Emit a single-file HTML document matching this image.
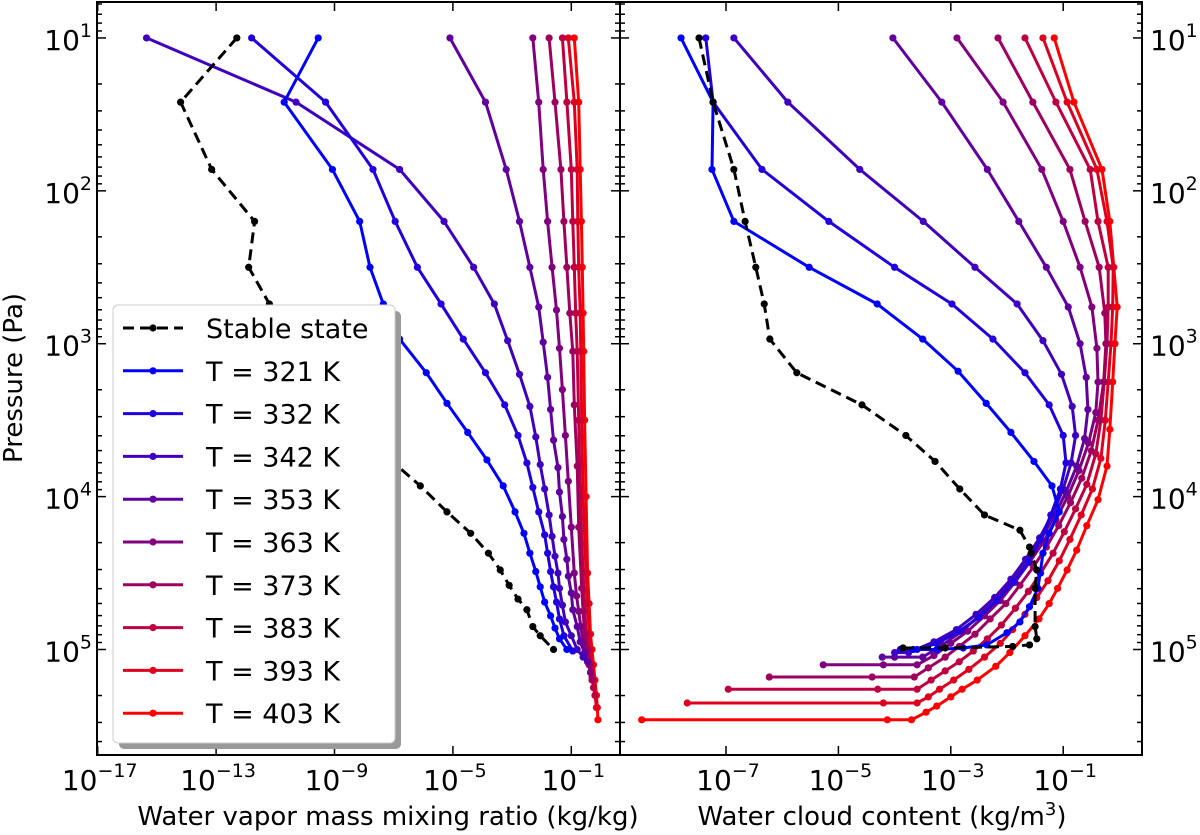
<!DOCTYPE html>
<html><head><meta charset="utf-8"><style>
body{margin:0;background:#fff;}
svg{display:block;font-family:"DejaVu Sans","Liberation Sans",sans-serif;}
</style></head><body>
<svg id="chart" width="1200" height="835" viewBox="0 0 1200 835" xmlns="http://www.w3.org/2000/svg">
<rect width="1200" height="835" fill="#fff"/>
<g id="plot"></g>
<text transform="translate(22,378) rotate(-90)" text-anchor="middle" font-size="26">Pressure (Pa)</text>
<text x="388" y="825" text-anchor="middle" font-size="26">Water vapor mass mixing ratio (kg/kg)</text>
<text x="882" y="825" text-anchor="middle" font-size="26">Water cloud content (kg/m<tspan dy="-10" font-size="18">3</tspan><tspan dy="10">)</tspan></text>
</svg>
<script>
// ---- data (log10 values) ----
const seriesNames = ["Stable state","T = 321 K","T = 332 K","T = 342 K","T = 353 K","T = 363 K","T = 373 K","T = 383 K","T = 393 K","T = 403 K"];
// Left panel: [log10 P, log10 mixing ratio]
const vaporStable = [[1,-12.3],[1.42,-14.2],[1.86,-13.15],[2.2,-11.7],[2.5,-11.9],[2.74,-11.2],[3.3,-9],[3.79,-6.93],[3.93,-6.1],[4.1,-5.2],[4.24,-4.4],[4.37,-3.8],[4.48,-3.4],[4.58,-3.1],[4.67,-2.8],[4.74,-2.5],[4.85,-2.3],[4.91,-2.05],[5.0,-1.6]];
const vapor321 = [[1,-9.55],[1.42,-10.7],[1.86,-9.07],[2.2,-8.15],[2.5,-7.8],[2.74,-7.35],[2.97,-6.8],[3.19,-5.9],[3.39,-5.2],[3.58,-4.5],[3.76,-3.85],[3.93,-3.3],[4.1,-2.9],[4.24,-2.6],[4.37,-2.4],[4.49,-2.2],[4.59,-2.05],[4.69,-1.9],[4.78,-1.7],[4.86,-1.55],[4.93,-1.4],[5.0,-1.15]];
const vapor332 = [[1,-11.8],[1.42,-9.3],[1.86,-7.7],[2.2,-6.95],[2.5,-6.2],[2.74,-5.4],[2.97,-4.65],[3.19,-3.9],[3.4,-3.25],[3.6,-2.8],[3.78,-2.5],[3.94,-2.3],[4.1,-2.1],[4.25,-1.9],[4.37,-1.8],[4.49,-1.7],[4.59,-1.6],[4.69,-1.5],[4.8,-1.4],[4.91,-1.25],[5.01,-0.95]];
const vapor342 = [[1,-15.35],[1.42,-10.3],[1.86,-6.8],[2.2,-5.3],[2.5,-4.3],[2.74,-3.6],[2.98,-3.15],[3.2,-2.75],[3.41,-2.4],[3.61,-2.2],[3.79,-2.05],[3.95,-1.9],[4.12,-1.75],[4.26,-1.65],[4.39,-1.55],[4.5,-1.45],[4.6,-1.4],[4.71,-1.3],[4.82,-1.2],[4.91,-1.0],[5.0,-0.8],[5.05,-0.6]];
const vapor353 = [[1,-5.1],[1.42,-3.9],[1.86,-3.2],[2.2,-2.75],[2.5,-2.4],[2.76,-2.1],[2.99,-1.95],[3.22,-1.8],[3.43,-1.7],[3.63,-1.6],[3.81,-1.45],[3.97,-1.4],[4.13,-1.3],[4.28,-1.25],[4.41,-1.15],[4.52,-1.1],[4.63,-1.0],[4.74,-0.95],[4.85,-0.8],[4.95,-0.7],[5.02,-0.55],[5.08,-0.45]];
const vapor363 = [[1,-2.3],[1.42,-2.1],[1.86,-1.95],[2.2,-1.8],[2.5,-1.65],[2.78,-1.5],[3.03,-1.4],[3.3,-1.3],[3.6,-1.2],[3.9,-1.1],[4.2,-1.0],[4.5,-0.9],[4.65,-0.82],[4.75,-0.75],[4.85,-0.68],[4.95,-0.6],[5.02,-0.52],[5.08,-0.45],[5.15,-0.35]];
const vapor373 = [[1,-1.75],[1.42,-1.55],[1.86,-1.35],[2.2,-1.25],[2.5,-1.15],[2.8,-1.05],[3.05,-0.95],[3.4,-0.9],[3.8,-0.8],[4.2,-0.75],[4.6,-0.65],[4.75,-0.6],[4.9,-0.55],[5.0,-0.48],[5.1,-0.4],[5.15,-0.35],[5.2,-0.3]];
const vapor383 = [[1,-1.3],[1.42,-1.15],[1.86,-1.0],[2.2,-0.95],[2.5,-0.9],[2.8,-0.85],[3.05,-0.8],[3.5,-0.75],[4.0,-0.7],[4.5,-0.6],[4.7,-0.55],[4.9,-0.5],[5.0,-0.43],[5.1,-0.35],[5.18,-0.3],[5.25,-0.25],[5.3,-0.2]];
const vapor393 = [[1,-1.1],[1.42,-0.9],[1.86,-0.8],[2.2,-0.78],[2.5,-0.75],[2.8,-0.7],[3.05,-0.68],[3.5,-0.65],[4.0,-0.6],[4.5,-0.5],[4.7,-0.45],[4.9,-0.4],[5.0,-0.35],[5.1,-0.3],[5.2,-0.25],[5.3,-0.2],[5.38,-0.15]];
const vapor403 = [[1,-0.9],[1.42,-0.75],[1.86,-0.7],[2.2,-0.66],[2.5,-0.63],[2.8,-0.6],[3.05,-0.58],[3.5,-0.55],[4.0,-0.5],[4.5,-0.45],[4.7,-0.4],[4.9,-0.35],[5.0,-0.3],[5.1,-0.25],[5.2,-0.2],[5.3,-0.15],[5.38,-0.12],[5.46,-0.1]];
// Right panel: [log10 P, log10 cloud content]
const cloudStable = [[1,-7.48],[1.42,-7.23],[1.86,-6.86],[2.2,-6.66],[2.5,-6.47],[2.74,-6.32],[2.97,-6.22],[3.19,-5.74],[3.4,-4.58],[3.6,-3.8],[3.77,-3.28],[3.95,-2.84],[4.12,-2.4],[4.22,-1.77],[4.33,-1.6],[4.37,-1.57],[4.48,-1.47],[4.6,-1.5],[4.85,-1.5],[4.93,-1.47],[4.97,-1.6],[4.98,-1.9],[4.99,-3.1],[4.99,-3.85]];
const cloud321 = [[1,-7.8],[1.42,-7.23],[1.86,-7.25],[2.2,-6.86],[2.5,-5.52],[2.74,-4.31],[2.97,-3.5],[3.18,-2.87],[3.39,-2.37],[3.58,-1.93],[3.77,-1.52],[3.93,-1.2],[4.1,-1.07],[4.24,-1.25],[4.37,-1.36],[4.5,-1.41],[4.6,-1.45],[4.72,-1.6],[4.82,-1.77],[4.89,-2.0],[4.97,-2.36],[4.99,-2.78],[5.0,-3.25],[5.0,-3.67]];
const cloud332 = [[1,-7.36],[1.42,-7.23],[1.86,-6.36],[2.2,-5.17],[2.5,-4.0],[2.74,-2.98],[2.97,-2.25],[3.19,-1.68],[3.4,-1.25],[3.6,-1.0],[3.78,-0.95],[3.95,-1.05],[4.12,-1.22],[4.28,-1.4],[4.43,-1.62],[4.56,-1.88],[4.68,-2.18],[4.79,-2.5],[4.88,-2.85],[4.96,-3.25],[5.0,-3.6],[5.0,-3.9]];
const cloud342 = [[1,-6.86],[1.42,-5.9],[1.86,-4.62],[2.2,-3.49],[2.5,-2.57],[2.74,-1.82],[2.98,-1.36],[3.2,-1.03],[3.41,-0.84],[3.6,-0.78],[3.78,-0.86],[3.95,-1.0],[4.12,-1.2],[4.27,-1.42],[4.41,-1.67],[4.54,-1.93],[4.66,-2.22],[4.77,-2.55],[4.87,-2.9],[4.95,-3.3],[5.02,-3.75],[5.02,-4.0]];
const cloud353 = [[1,-4.03],[1.42,-3.16],[1.86,-2.35],[2.2,-1.79],[2.5,-1.3],[2.76,-0.91],[3.0,-0.7],[3.22,-0.59],[3.43,-0.56],[3.62,-0.62],[3.8,-0.76],[3.97,-0.95],[4.13,-1.16],[4.28,-1.4],[4.42,-1.65],[4.55,-1.92],[4.67,-2.2],[4.78,-2.5],[4.88,-2.8],[4.97,-3.15],[5.05,-3.5],[5.05,-4.0],[5.05,-4.22]];
const cloud363 = [[1,-2.89],[1.42,-2.07],[1.86,-1.38],[2.2,-1.0],[2.5,-0.7],[2.76,-0.49],[3.03,-0.4],[3.25,-0.38],[3.45,-0.42],[3.65,-0.55],[3.83,-0.72],[4.0,-0.92],[4.15,-1.13],[4.3,-1.36],[4.43,-1.6],[4.56,-1.86],[4.68,-2.12],[4.78,-2.4],[4.88,-2.7],[4.96,-3.0],[5.04,-3.3],[5.1,-3.6],[5.1,-4.2],[5.1,-5.27]];
const cloud373 = [[1,-2.16],[1.42,-1.54],[1.86,-0.88],[2.2,-0.61],[2.5,-0.36],[2.8,-0.26],[3.0,-0.24],[3.25,-0.28],[3.5,-0.38],[3.7,-0.5],[3.88,-0.67],[4.04,-0.87],[4.19,-1.08],[4.33,-1.3],[4.46,-1.53],[4.58,-1.77],[4.7,-2.02],[4.8,-2.3],[4.9,-2.57],[4.98,-2.85],[5.05,-3.1],[5.12,-3.4],[5.18,-3.65],[5.18,-4.4],[5.18,-6.23]];
const cloud383 = [[1,-1.68],[1.42,-1.13],[1.86,-0.52],[2.2,-0.38],[2.5,-0.2],[2.76,-0.2],[3.0,-0.22],[3.25,-0.27],[3.5,-0.33],[3.72,-0.42],[3.92,-0.58],[4.08,-0.78],[4.23,-0.98],[4.37,-1.18],[4.5,-1.4],[4.62,-1.62],[4.73,-1.85],[4.84,-2.1],[4.93,-2.35],[5.01,-2.6],[5.08,-2.85],[5.14,-3.1],[5.2,-3.35],[5.26,-3.6],[5.26,-4.3],[5.26,-6.96]];
const cloud393 = [[1,-1.36],[1.42,-0.93],[1.86,-0.4],[2.2,-0.22],[2.5,-0.11],[2.76,-0.12],[3.0,-0.15],[3.25,-0.2],[3.5,-0.25],[3.75,-0.33],[3.95,-0.48],[4.12,-0.68],[4.28,-0.88],[4.42,-1.07],[4.55,-1.27],[4.66,-1.47],[4.77,-1.68],[4.87,-1.9],[4.96,-2.12],[5.05,-2.4],[5.13,-2.68],[5.2,-2.95],[5.26,-3.2],[5.31,-3.4],[5.35,-3.6],[5.35,-4.2],[5.35,-7.69]];
const cloud403 = [[1,-1.16],[1.42,-0.81],[1.86,-0.31],[2.2,-0.17],[2.5,-0.1],[2.76,-0.04],[3.0,-0.08],[3.25,-0.12],[3.56,-0.17],[3.8,-0.22],[4.02,-0.38],[4.19,-0.58],[4.35,-0.76],[4.48,-0.93],[4.6,-1.1],[4.7,-1.25],[4.8,-1.43],[4.91,-1.68],[5.02,-1.95],[5.11,-2.2],[5.2,-2.53],[5.26,-2.8],[5.31,-3.0],[5.37,-3.25],[5.41,-3.44],[5.46,-3.7],[5.46,-4.13],[5.46,-8.5]];
const leftTicks = [-17,-13,-9,-5,-1];
const rightTicks = [-7,-5,-3,-1];
const yTicks = [1,2,3,4,5];

const vaporSeries = [vaporStable,vapor321,vapor332,vapor342,vapor353,vapor363,vapor373,vapor383,vapor393,vapor403];
const cloudSeries = [cloudStable,cloud321,cloud332,cloud342,cloud353,cloud363,cloud373,cloud383,cloud393,cloud403];

// ---- geometry ----
const TOP=2, BOT=755, L1=97, R1=620, L2=620, R2=1142;
const yMin=0.765, yMax=5.69;
const y = v => TOP + (v - yMin)/(yMax - yMin)*(BOT-TOP);
const xL = v => 97.7 + (v + 17)*29.6;
const xR = v => 726 + (v + 7)*56.2;
const NS="http://www.w3.org/2000/svg";
const plot=document.getElementById('plot');
function mk(tag, attrs, parent){const e=document.createElementNS(NS,tag);for(const k in attrs)e.setAttribute(k,attrs[k]);(parent||plot).appendChild(e);return e;}
function color(i){ if(i===0) return '#000'; const t=(i-1)/8; return `rgb(${Math.round(255*t)},0,${Math.round(255*(1-t))})`; }

function drawPanel(series, xf, name, x0, x1){
  const cp = mk('clipPath',{id:'clip-'+name});
  mk('rect',{x:x0,y:TOP,width:x1-x0,height:BOT-TOP},cp);
  const g = mk('g',{'clip-path':'url(#clip-'+name+')'});
  
  
  for(let i=series.length-1;i>=0;i--){
    const s=series[i], c=color(i);
    const pts=s.map(p=>xf(p[1]).toFixed(1)+','+y(p[0]).toFixed(1)).join(' ');
    const pl=mk('polyline',{points:pts,fill:'none',stroke:c,'stroke-width':3,'stroke-linejoin':'round'},g);
    if(i===0) pl.setAttribute('stroke-dasharray','11,6');
    
    
    s.forEach(p=>{
      const d=mk('circle',{cx:xf(p[1]),cy:y(p[0]),r:3.6,fill:c},g);
      
      
    });
  }
}
drawPanel(vaporSeries, xL, 'vapor', L1, R1);
drawPanel(cloudSeries, xR, 'cloud', L2, R2);

// axes frames
[[L1,R1,'left'],[L2,R2,'right']].forEach(([a,b,n])=>{
  const r=mk('rect',{x:a,y:TOP,width:b-a,height:BOT-TOP,fill:'none',stroke:'#000','stroke-width':2});
  
  
});
// y ticks
const tg=mk('g',{stroke:'#000','stroke-width':1.5});
for(let d=0; d<=5; d++){
  for(let m=1;m<10;m++){
    const v=d+Math.log10(m);
    if(v<yMin||v>yMax) continue;
    const len = m===1?9:5, yy=y(v);
    [[L1,1],[R1,-1],[R1,1],[R2,-1]].forEach(([xx,dir])=>mk('line',{x1:xx,y1:yy,x2:xx+dir*len,y2:yy},tg));
  }
}
yTicks.forEach(v=>{
  const yy=y(v);
  const t1=mk('text',{x:92,y:yy+12,'text-anchor':'end','font-size':28,fill:'#000'});
  
  
  t1.innerHTML='10<tspan dy="-13" font-size="19">'+v+'</tspan>';
  const t2=mk('text',{x:1150,y:yy+12,'text-anchor':'start','font-size':28,fill:'#000'});
  
  
  t2.innerHTML='10<tspan dy="-13" font-size="19">'+v+'</tspan>';
});
function xticks(ticks, xf){
  ticks.forEach(v=>{
    const xx=xf(v);
    mk('line',{x1:xx,y1:BOT,x2:xx,y2:BOT-9},tg);
    mk('line',{x1:xx,y1:TOP,x2:xx,y2:TOP+9},tg);
    const t=mk('text',{x:xx+2,y:790,'text-anchor':'middle','font-size':28,fill:'#000'});
    
    
    t.innerHTML='10<tspan dy="-13" font-size="19">\u2212'+Math.abs(v)+'</tspan>';
  });
}
xticks(leftTicks, xL);
xticks(rightTicks, xR);

// legend
const lg=mk('g',{});


mk('rect',{x:119,y:311,width:282,height:438,rx:5,fill:'#999'},lg);
mk('rect',{x:113,y:305,width:282,height:438,rx:5,fill:'#fff',stroke:'#ccc','stroke-width':1},lg);
seriesNames.forEach((nm,i)=>{
  const yy=328+i*42.8, c=color(i);
  const e=mk('g',{},lg);
  
  
  const ln=mk('line',{x1:123,y1:yy,x2:183,y2:yy,stroke:c,'stroke-width':3},e);
  if(i===0) ln.setAttribute('stroke-dasharray','11,6');
  mk('circle',{cx:153,cy:yy,r:3.6,fill:c},e);
  const t=mk('text',{x:206,y:yy+10,'font-size':27,fill:'#000'},e);
  t.textContent=nm;
});
</script>
</body></html>
